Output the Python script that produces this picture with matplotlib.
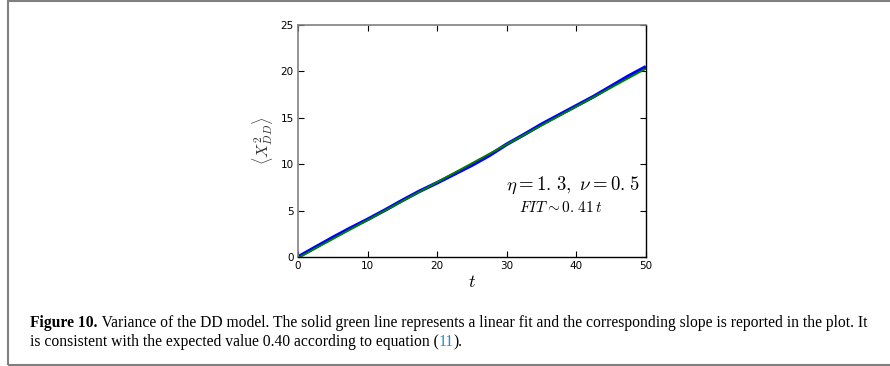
import matplotlib
matplotlib.use("Agg")
import matplotlib.pyplot as plt
import numpy as np
from matplotlib.patches import Rectangle

plt.rcParams['mathtext.fontset'] = 'cm'

t_data = [0, 2.5, 5, 7.5, 10, 12.5, 15, 17.5, 20, 22.5, 25, 27.5, 30, 32.5, 35, 37.5, 40, 42.5, 45, 47.5, 50]
var_data = [0, 1.05, 2.1, 3.1, 4.05, 5.05, 6.1, 7.1, 8.0, 8.95, 9.9, 10.95, 12.15, 13.2, 14.3, 15.3, 16.3, 17.3, 18.4, 19.5, 20.5]
fit_t = [0, 50]
fit_v = [-0.1, 20.3]
xticks = [0, 10, 20, 30, 40, 50]
yticks = [0, 5, 10, 15, 20, 25]

fig = plt.figure(figsize=(8.9, 3.66), dpi=100)
ax = fig.add_axes([0.3348, 0.2978, 0.3910, 0.6339])
ax.plot(t_data, var_data, color='#0000ff', lw=2.6, solid_capstyle='butt')
ax.plot(fit_t, fit_v, color='#008000', lw=1.4)
ax.set_xlim(0, 50)
ax.set_ylim(0, 25)
ax.set_xticks(xticks)
ax.set_yticks(yticks)
ax.tick_params(direction='in', top=True, right=True, labelsize=7.5, length=4, width=0.8, pad=3, colors='black')
for side in ['left', 'top']:
    ax.spines[side].set_color('#808080')
    ax.spines[side].set_linewidth(1.2)
for side in ['bottom', 'right']:
    ax.spines[side].set_color('black')
    ax.spines[side].set_linewidth(1.0)
ax.set_xlabel(r'$t$', fontsize=13, labelpad=1)
ax.set_ylabel(r'$\langle X_{DD}^2\rangle$', fontsize=11.5, labelpad=4, color='#333333')
ax.text(0.983, 0.31, r'$\eta = 1.\hspace{0.12}3,\ \nu = 0.\hspace{0.12}5$', transform=ax.transAxes,
        ha='right', va='center', fontsize=13.5)
ax.text(0.876, 0.215, r'$FIT \sim 0.\hspace{0.12}41\,t$', transform=ax.transAxes,
        ha='right', va='center', fontsize=11)

# outer frame
fig.patches.append(Rectangle((8/890, 1/366), 890/890, 364.5/366, transform=fig.transFigure,
                             fill=False, edgecolor='#808080', lw=1.5, clip_on=False))

cap_font = 'Liberation Serif'
W = 890.0
fs = 11.0
y1 = 1 - 323/366
y2 = 1 - 342/366
line1_rest = ' Variance of the DD model. The solid green line represents a linear fit and the corresponding slope is reported in the plot. It'
line2 = 'is consistent with the expected value 0.40 according to equation ('

def draw_caption(fs):
    a = fig.text(30/W, y1, 'Figure 10.', fontsize=fs, fontweight='bold', family=cap_font, va='center')
    fig.canvas.draw()
    xb = a.get_window_extent().x1 / fig.bbox.width
    b = fig.text(xb, y1, line1_rest, fontsize=fs, family=cap_font, va='center')
    c = fig.text(30/W, y2, line2, fontsize=fs, family=cap_font, va='center')
    fig.canvas.draw()
    xc = c.get_window_extent().x1 / fig.bbox.width
    d = fig.text(xc, y2, '11', fontsize=fs, family=cap_font, va='center', color='#2a8bbf')
    fig.canvas.draw()
    xd = d.get_window_extent().x1 / fig.bbox.width
    e = fig.text(xd, y2, ').', fontsize=fs, family=cap_font, va='center')
    return [a, b, c, d, e]

texts = draw_caption(fs)
fig.canvas.draw()
right = texts[1].get_window_extent().x1
scale = (867 - 30) / (right - 30)
for tt in texts:
    tt.remove()
texts = draw_caption(fs * scale)

fig.savefig('out.png', dpi=100)
